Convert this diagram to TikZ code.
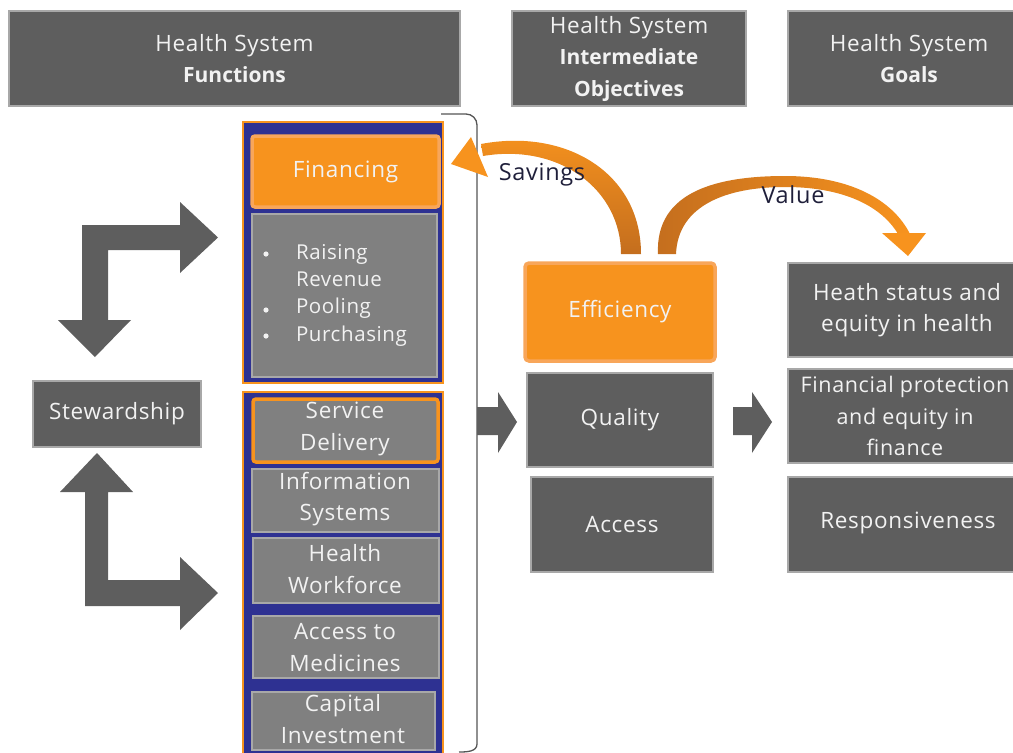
\documentclass[tikz,border=0pt]{standalone}
\usepackage{fontspec}
\setmainfont{Open Sans}[UprightFeatures={LetterSpace=3},BoldFeatures={LetterSpace=0}]
\definecolor{dgray}{HTML}{5E5E5E}
\definecolor{mgray}{HTML}{808080}
\definecolor{lgray}{HTML}{A8A8A8}
\definecolor{navy}{HTML}{2E3192}
\definecolor{orng}{HTML}{F7931E}
\definecolor{lorng}{HTML}{F8A65A}
\definecolor{dorng}{HTML}{C46E1E}
\definecolor{txt}{HTML}{F2F2F2}
\definecolor{lbl}{HTML}{1F1F3A}
\definecolor{brk}{HTML}{555555}
\newcommand{\hdbold}[1]{{\fontsize{21}{31.5}\selectfont\bfseries #1}}
\begin{document}
\begin{tikzpicture}[x=1pt,y=-1pt,
  every node/.style={inner sep=0pt,outer sep=0pt},
  bodyfont/.style={font=\fontsize{22.5}{31.5}\selectfont},
  darkbox/.style={rectangle,fill=dgray,draw=lgray,line width=1.2pt,text=txt,align=center,bodyfont},
  headbox/.style={darkbox},
  midbox/.style={rectangle,fill=mgray,draw=lgray,line width=1.2pt,text=txt,align=center,bodyfont},
  container/.style={rectangle,fill=navy,draw=orng,line width=2pt},
  orngbox/.style={rectangle,rounded corners=3pt,fill=orng,draw=lorng,line width=3.5pt,text=txt,align=center,bodyfont},
  sdbox/.style={rectangle,rounded corners=3pt,fill=mgray,draw=orng,line width=3.5pt,text=txt,align=center,bodyfont},
  blockarrow/.style={fill=dgray},
  arclabel/.style={text=lbl,font=\fontsize{23.5}{26}\selectfont}
]
\useasboundingbox (0,0) rectangle (1013,753);
\clip (0,0) rectangle (1013,753);

% column headers
\node[headbox,minimum width=451pt,minimum height=95pt] (hfun) at (234.5,58.5) {Health System\\\hdbold{Functions}};
\node[headbox,minimum width=234pt,minimum height=95pt] (hobj) at (629,58.5) {Health System\\\hdbold{Intermediate}\\\hdbold{Objectives}};
\node[headbox,minimum width=242pt,minimum height=95pt] (hgoal) at (909,58.5) {Health System\\\hdbold{Goals}};

% financing block
\node[container,minimum width=200pt,minimum height=261pt] (fincont) at (343,252.5) {};
\node[orngbox,minimum width=187pt,minimum height=71pt] (fin) at (345.5,171.5) {Financing};
\node[midbox,minimum width=185pt,minimum height=163pt] (finlist) at (344.5,295.5) {};
\node[anchor=west,align=left,text=txt,font=\fontsize{20.5}{27.3}\selectfont] (finitems) at (296,295) {Raising\\Revenue\\Pooling\\Purchasing};
\foreach \yy in {254,310,336} \fill[txt] (266,\yy) circle (2.6);

% service block
\node[container,minimum width=200pt,minimum height=378pt] (svccont) at (343,581) {};
\node[sdbox,minimum width=185pt,minimum height=63pt] (sd) at (345.5,430.5) {};
\node[text=txt,align=center,bodyfont] (sdtext) at (345,429) {Service\\Delivery};
\node[midbox,minimum width=187pt,minimum height=63pt] (info) at (345.5,500.5) {};
\node[text=txt,align=center,bodyfont] (infotext) at (345,499) {Information\\Systems};
\node[midbox,minimum width=186pt,minimum height=65pt] (hw) at (346,570.5) {};
\node[text=txt,align=center,bodyfont] (hwtext) at (345,569) {Health\\Workforce};
\node[midbox,minimum width=186pt,minimum height=62pt] (med) at (346,647) {};
\node[text=txt,align=center,bodyfont] (medtext) at (345,647.5) {Access to\\Medicines};
\node[midbox,minimum width=183pt,minimum height=58pt] (cap) at (343.5,721) {};
\node[text=txt,align=center,bodyfont] (captext) at (343,719) {Capital\\Investment};

% bracket grouping the functions
\draw[brk,line width=1.3pt] (441,114) -- (466,114) to[out=0,in=90] (477,125)
  -- (477,744) to[out=-90,in=0] (459,752);

% stewardship and its two bent arrows
\node[darkbox,minimum width=168pt,minimum height=66pt] (stew) at (117,414) {Stewardship};
\fill[blockarrow] (82,225) -- (180,225) -- (180,202) -- (218,237.5) -- (180,273) -- (180,250)
  -- (108,250) -- (108,320) -- (131,320) -- (95,357) -- (58,320) -- (82,320) -- cycle;
\fill[blockarrow] (97,453) -- (133,492) -- (108,492) -- (108,580) -- (180,580) -- (180,557)
  -- (218,593) -- (180,630) -- (180,606) -- (85,606) -- (85,492) -- (60,492) -- cycle;

% intermediate objectives
\node[orngbox,minimum width=190pt,minimum height=98pt,rounded corners=4pt] (eff) at (620,312) {Efficiency};
\node[darkbox,minimum width=186pt,minimum height=94pt] (qual) at (620,420) {Quality};
\node[darkbox,minimum width=182pt,minimum height=95pt] (acc) at (622,524.5) {Access};

% goals
\node[darkbox,minimum width=242pt,minimum height=94pt] (ghealth) at (909,310) {};
\node[text=txt,align=center,bodyfont] (ghealthtext) at (907,310) {Heath status and\\equity in health};
\node[darkbox,minimum width=242pt,minimum height=94pt] (gfin) at (909,416) {};
\node[text=txt,align=center,font=\fontsize{21.5}{31.5}\selectfont] (gfintext) at (905,416) {Financial protection\\and equity in\\finance};
\node[darkbox,minimum width=242pt,minimum height=95pt] (gresp) at (909,524.5) {};
\node[text=txt,align=center,bodyfont] (gresptext) at (908,523) {Responsiveness};

% straight block arrows
\fill[blockarrow] (477,407) -- (498,407) -- (498,392) -- (517,422) -- (498,453) -- (498,435) -- (477,435) -- cycle;
\fill[blockarrow] (733,407) -- (752,407) -- (752,392) -- (772,422) -- (752,453) -- (752,435) -- (733,435) -- cycle;

% curved arrow: savings back to financing
\shade[top color=orng,middle color=orng,bottom color=dorng]
  (641,254) .. controls (641,172) and (565,128) .. (481,144)
  -- (483,156) .. controls (560,143) and (621,190) .. (621,254) -- cycle;
\fill[orng] (471,137) -- (488,177) -- (451,164) -- cycle;
\node[arclabel] (savings) at (542,175) {Savings};

% curved arrow: value to health goals
\shade[left color=dorng,middle color=orng,right color=orng]
  (658,254) .. controls (655,190) and (720,176) .. (785,176)
  .. controls (850,176) and (893,200) .. (910,234)
  -- (898,234) .. controls (882,207) and (845,187) .. (785,187)
  .. controls (727,187) and (678,205) .. (676,254) -- cycle;
\fill[orng] (882,233) -- (926,233) -- (908,256) -- cycle;
\node[arclabel] (value) at (793,195) {Value};
\end{tikzpicture}
\end{document}
